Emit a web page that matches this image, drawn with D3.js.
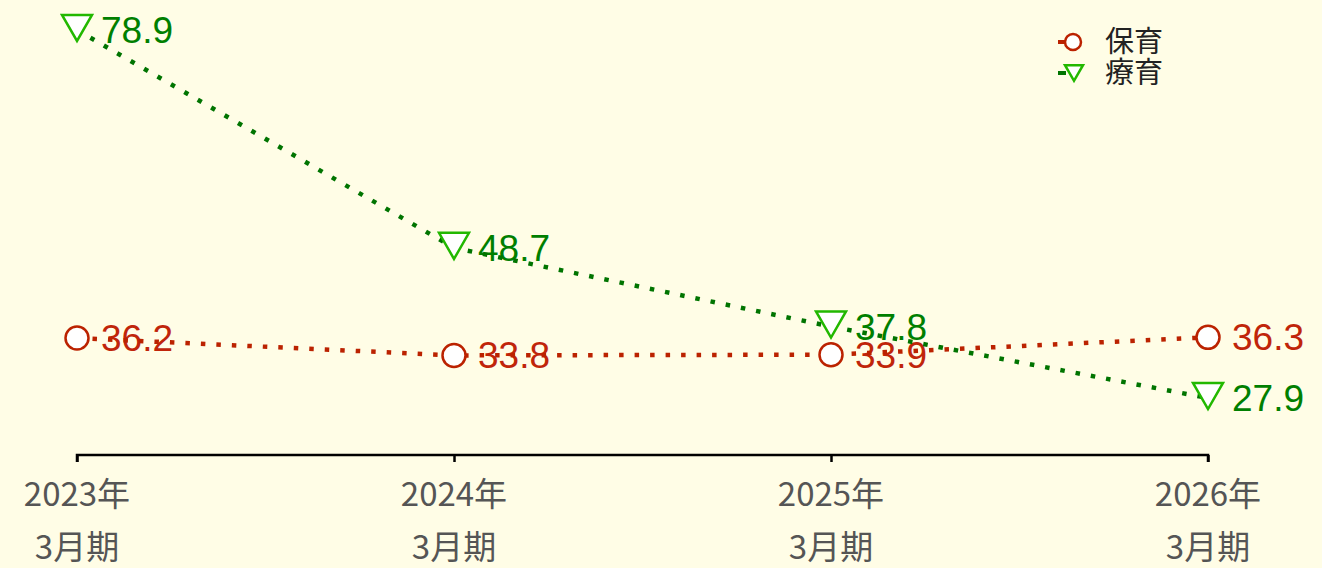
<!DOCTYPE html>
<html>
<head>
<meta charset="utf-8">
<script src="https://cdn.jsdelivr.net/npm/d3@7"></script>
<style>
  html, body { margin: 0; padding: 0; background: #fffde6; }
  svg { display: block; }
</style>
</head>
<body>
<div id="chart"></div>
<script>
// Data
const years = ['2023年', '2024年', '2025年', '2026年'];
const periods = ['3月期', '3月期', '3月期', '3月期'];
const hoiku = [36.2, 33.8, 33.9, 36.3];
const ryoiku = [78.9, 48.7, 37.8, 27.9];
const seriesNames = ['保育', '療育'];

const width = 1322, height = 568;

const svg = d3.select('#chart')
    .append('svg')
    .attr('width', width)
    .attr('height', height);

svg.append('rect')
    .attr('width', width)
    .attr('height', height)
    .attr('fill', '#fffde6');

const x = d3.scalePoint()
    .domain(d3.range(years.length))
    .range([77, 1208]);

const y = d3.scaleLinear()
    .domain([20, 80])
    .range([455, 22]);

const series = [
    { name: seriesNames[0], values: hoiku, line: '#bb2200', text: '#c0250a', mark: '#bb2200', shape: 'circle' },
    { name: seriesNames[1], values: ryoiku, line: '#007400', text: '#007f00', mark: '#22b800', shape: 'triangle' }
];

// Axis
const axis = svg.append('g')
    .attr('transform', `translate(0,455)`)
    .call(d3.axisBottom(x).tickSize(7).tickFormat(() => ''));
axis.select('.domain')
    .attr('d', `M${x(0)},7V0H${x(years.length - 1)}V7`)
    .attr('stroke', '#000')
    .attr('stroke-width', 2.5)
    .attr('fill', 'none');
axis.selectAll('.tick line').attr('stroke', '#000').attr('stroke-width', 2.5);

const labels = svg.append('g')
    .attr('font-family', '"Noto Sans CJK JP", sans-serif')
    .attr('font-size', 33)
    .attr('fill', '#555')
    .attr('text-anchor', 'middle');
years.forEach((yr, i) => {
    labels.append('text').attr('x', x(i)).attr('y', 506).text(yr);
    labels.append('text').attr('x', x(i)).attr('y', 559).text(periods[i]);
});

const line = d3.line()
    .x((d, i) => x(i))
    .y(d => y(d));

function triPath(cx, cy, w) {
    const h = w * 0.87;
    return `M${cx - w / 2},${cy - h / 2}L${cx + w / 2},${cy - h / 2}L${cx},${cy + h / 2}Z`;
}

// value labels
series.forEach(s => {
    svg.append('g')
        .attr('font-family', '"Liberation Sans", Arial, sans-serif')
        .attr('font-size', 37)
        .attr('fill', s.text)
        .selectAll('text')
        .data(s.values)
        .enter()
        .append('text')
        .attr('x', (d, i) => x(i) + 24)
        .attr('y', d => y(d) + 13)
        .text(d => d.toFixed(1));
});

// lines
series.forEach(s => {
    svg.append('path')
        .datum(s.values)
        .attr('d', line)
        .attr('fill', 'none')
        .attr('stroke', s.line)
        .attr('stroke-width', 4.5)
        .attr('stroke-dasharray', '4.5,11');
});

// markers
series.forEach(s => {
    const g = svg.append('g');
    s.values.forEach((d, i) => {
        if (s.shape === 'circle') {
            g.append('circle')
                .attr('cx', x(i)).attr('cy', y(d)).attr('r', 11.5)
                .attr('fill', '#fff').attr('stroke', s.mark).attr('stroke-width', 2.5);
        } else {
            g.append('path')
                .attr('d', triPath(x(i), y(d) - 2, 30))
                .attr('fill', '#fff').attr('stroke', s.mark).attr('stroke-width', 2.5)
                .attr('stroke-linejoin', 'miter');
        }
    });
});

// legend
const legend = svg.append('g').attr('transform', 'translate(1058,42)');
series.forEach((s, i) => {
    const row = legend.append('g').attr('transform', `translate(0,${i * 31})`);
    row.append('line')
        .attr('x1', 0).attr('x2', 8).attr('y1', 0).attr('y2', 0)
        .attr('stroke', s.line).attr('stroke-width', 4);
    if (s.shape === 'circle') {
        row.append('circle').attr('cx', 15).attr('cy', 0).attr('r', 8)
            .attr('fill', '#fff').attr('stroke', s.mark).attr('stroke-width', 2.5);
    } else {
        row.append('path').attr('d', triPath(16, 0, 18))
            .attr('fill', '#fff').attr('stroke', s.mark).attr('stroke-width', 2.5);
    }
    row.append('text')
        .attr('x', 47).attr('y', 10)
        .attr('font-family', '"Noto Sans CJK JP", sans-serif')
        .attr('font-size', 29)
        .attr('fill', '#222')
        .text(s.name);
});
</script>
</body>
</html>
